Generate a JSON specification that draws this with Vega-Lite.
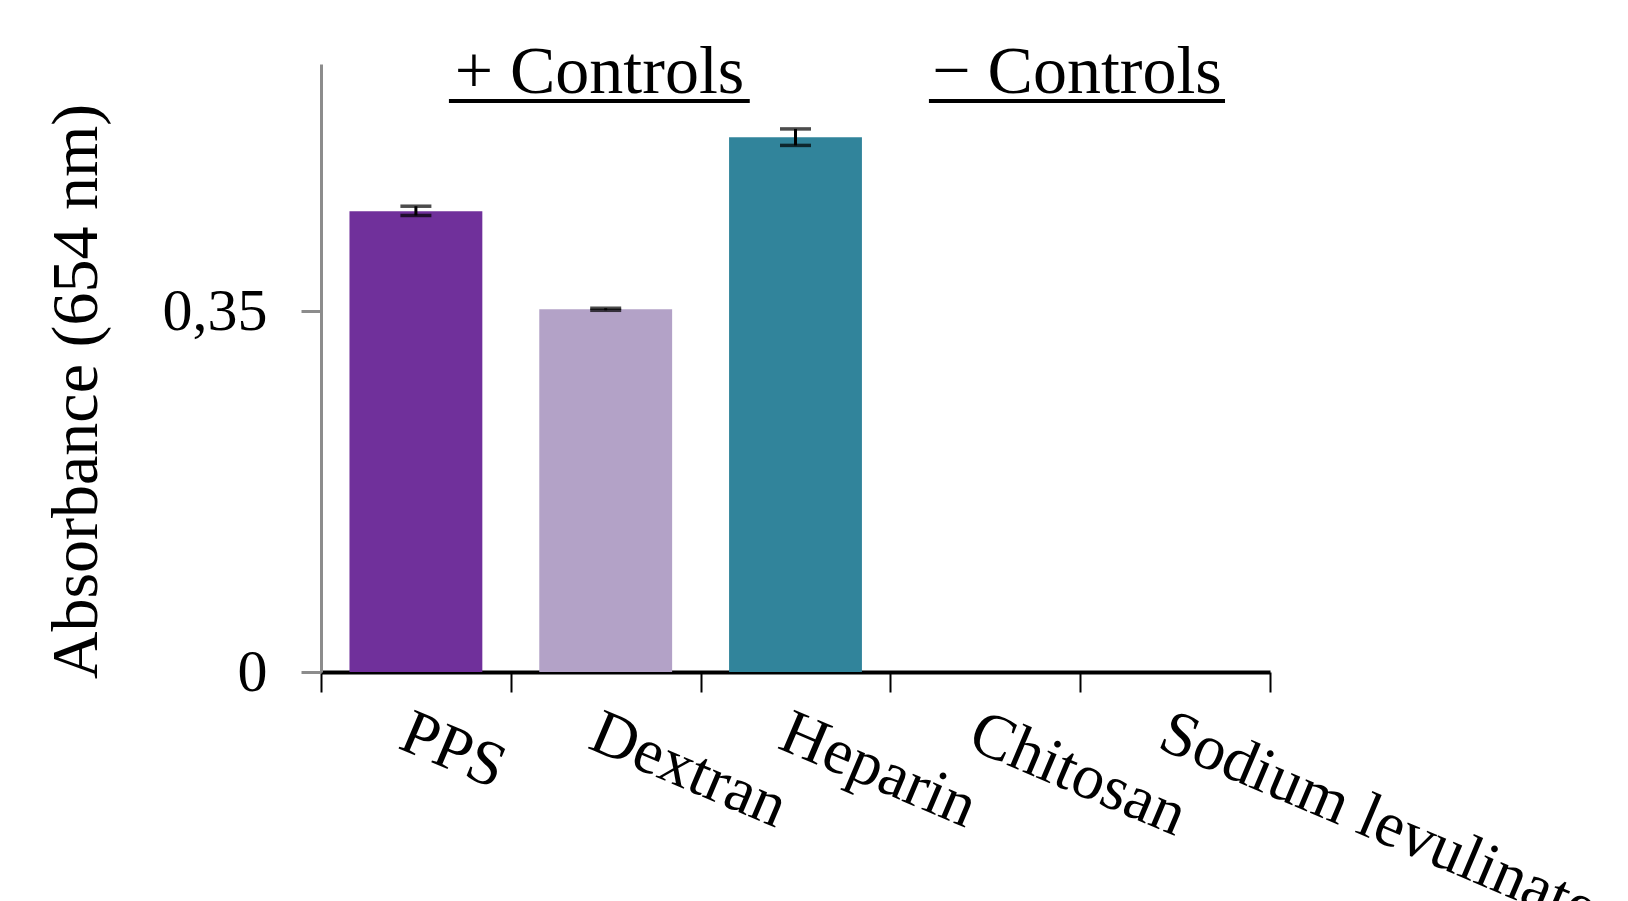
{
  "$schema": "https://vega.github.io/schema/vega-lite/v6.json",
  "autosize": "none",
  "width": 949,
  "height": 608,
  "padding": {"left": 321, "top": 64, "right": 358, "bottom": 229},
  "background": "white",
  "config": {"view": {"stroke": null}, "font": "Liberation Serif"},
  "datasets": {
    "bars": [
      {"sample": "PPS", "absorbance": 0.447, "low": 0.443, "high": 0.452},
      {"sample": "Dextran", "absorbance": 0.352, "low": 0.351, "high": 0.353},
      {"sample": "Heparin", "absorbance": 0.519, "low": 0.511, "high": 0.527}
    ],
    "headers": [
      {"label": "+ Controls", "center": 1.467, "start": 0.674, "end": 2.259, "textY": 0.562, "lineY": 0.554},
      {"label": "− Controls", "center": 3.983, "start": 3.203, "end": 4.763, "textY": 0.562, "lineY": 0.554}
    ]
  },
  "layer": [
    {
      "data": {"name": "bars"},
      "encoding": {
        "x": {
          "field": "sample",
          "type": "nominal",
          "sort": null,
          "scale": {"domain": ["PPS", "Dextran", "Heparin", "Chitosan", "Sodium levulinate"], "paddingInner": 0, "paddingOuter": 0},
          "axis": {
            "title": null,
            "domainColor": "black",
            "domainWidth": 4,
            "tickColor": "black",
            "tickWidth": 2,
            "tickSize": 20,
            "tickBand": "extent",
            "labelAngle": 23,
            "labelAlign": "left",
            "labelBaseline": "top",
            "labelFont": "Liberation Serif",
            "labelFontSize": 64,
            "labelColor": "black",
            "labelPadding": 8,
            "labelDx": -34,
            "labelLimit": 0,
            "labelOverlap": false,
            "labelBound": false,
            "labelFlush": false
          }
        }
      },
      "layer": [
        {
          "mark": {"type": "bar", "width": {"band": 0.7}},
          "encoding": {
            "y": {
              "field": "absorbance",
              "type": "quantitative",
              "scale": {"domain": [0, 0.59], "nice": false, "zero": true},
              "axis": {
                "values": [0, 0.35],
                "grid": false,
                "labelExpr": "datum.value == 0 ? '0' : replace(datum.label, '.', ',')",
                "domainColor": "#8c8c8c",
                "domainWidth": 3,
                "tickColor": "#8c8c8c",
                "tickWidth": 3,
                "tickSize": 20,
                "labelFont": "Liberation Serif",
                "labelFontSize": 60,
                "labelColor": "black",
                "labelPadding": 34,
                "title": "Absorbance  (654 nm)",
                "titleFont": "Liberation Serif",
                "titleFontSize": 66,
                "titleFontWeight": "normal",
                "titleColor": "black",
                "titlePadding": 52,
                "titleY": 327
              }
            },
            "color": {
              "field": "sample",
              "type": "nominal",
              "scale": {"domain": ["PPS", "Dextran", "Heparin"], "range": ["#70309B", "#B3A2C7", "#31849B"]},
              "legend": null
            }
          }
        },
        {
          "mark": {"type": "rule", "color": "black", "strokeWidth": 3},
          "encoding": {
            "y": {"field": "low", "type": "quantitative"},
            "y2": {"field": "high"}
          }
        },
        {
          "mark": {"type": "tick", "color": "black", "thickness": 3.5, "size": 31},
          "encoding": {"y": {"field": "low", "type": "quantitative"}}
        },
        {
          "mark": {"type": "tick", "color": "black", "thickness": 3.5, "size": 31},
          "encoding": {"y": {"field": "high", "type": "quantitative"}}
        }
      ]
    },
    {
      "data": {"name": "headers"},
      "layer": [
        {
          "mark": {"type": "text", "font": "Liberation Serif", "fontSize": 68, "color": "black", "align": "center", "baseline": "alphabetic"},
          "encoding": {
            "x": {"field": "center", "type": "quantitative", "scale": {"domain": [0, 5], "nice": false, "zero": false}, "axis": null},
            "y": {"field": "textY", "type": "quantitative", "axis": null},
            "text": {"field": "label"}
          }
        },
        {
          "mark": {"type": "rule", "color": "black", "strokeWidth": 4},
          "encoding": {
            "x": {"field": "start", "type": "quantitative", "scale": {"domain": [0, 5], "nice": false, "zero": false}, "axis": null},
            "x2": {"field": "end"},
            "y": {"field": "lineY", "type": "quantitative", "axis": null}
          }
        }
      ]
    }
  ],
  "resolve": {"scale": {"x": "independent", "color": "independent"}, "axis": {"x": "independent", "y": "independent"}}
}
